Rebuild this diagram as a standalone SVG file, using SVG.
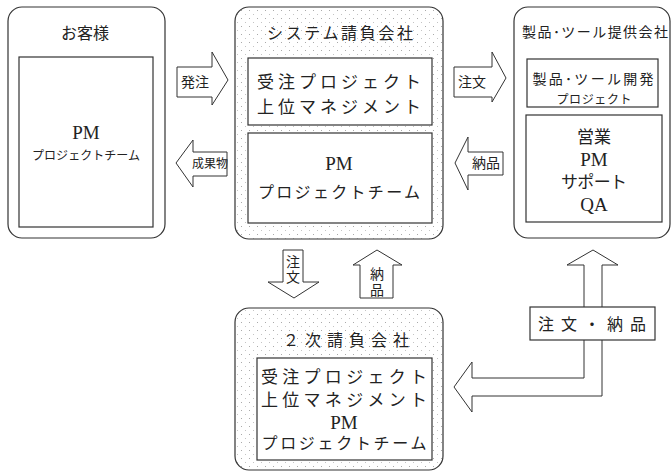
<svg xmlns="http://www.w3.org/2000/svg" width="671" height="472" viewBox="0 0 671 472">
<defs>
<pattern id="dots" width="8" height="8" patternUnits="userSpaceOnUse">
<rect width="8" height="8" fill="#fff"/>
<rect x="1" y="2" width="1" height="1" fill="#aaa"/>
<rect x="5" y="6" width="1" height="1" fill="#c4c4c4"/>
</pattern>
<style>
.box{fill:#fff;stroke:#333;stroke-width:1.2}
.dot{fill:url(#dots);stroke:#333;stroke-width:1.2}
.in{fill:#fff;stroke:#333;stroke-width:1.2}
.arr{fill:#fff;stroke:#333;stroke-width:1}
text{font-family:"Liberation Serif","Noto Sans CJK JP",serif;fill:#222;text-anchor:middle}
.t{font-size:16px}
.m{font-size:17px}
.p{font-size:19px}
.s{font-size:12px}
.a{font-size:14px}
</style>
</defs>

<g id="customer">
<rect class="box" x="8" y="7" width="157" height="231" rx="14"/>
<rect class="in" x="19" y="57" width="134" height="170"/>
<text class="t" x="85" y="39">お客様</text>
<text class="p" x="86" y="139">PM</text>
<text class="s" x="86" y="160" textLength="108">プロジェクトチーム</text>
</g>

<g id="system">
<rect class="dot" x="235" y="7" width="208" height="232" rx="14"/>
<rect class="in" x="248" y="58" width="184" height="67"/>
<rect class="in" x="248" y="133" width="184" height="90"/>
<text class="t" x="340" y="39" textLength="146">システム請負会社</text>
<text class="m" x="339" y="88" textLength="164">受注プロジェクト</text>
<text class="m" x="339" y="113" textLength="164">上位マネジメント</text>
<text class="p" x="339" y="170">PM</text>
<text class="t" x="339" y="198" textLength="162">プロジェクトチーム</text>
</g>

<g id="vendor">
<rect class="box" x="514" y="7" width="156" height="231" rx="14"/>
<rect class="in" x="527" y="59" width="131" height="48"/>
<rect class="in" x="526" y="115" width="136" height="107"/>
<text class="a" x="595" y="37" textLength="146">製品･ツール提供会社</text>
<text class="a" x="593" y="84" textLength="121">製品･ツール開発</text>
<text class="s" x="594" y="104" textLength="75">プロジェクト</text>
<text class="m" x="594" y="143">営業</text>
<text class="p" x="594" y="166">PM</text>
<text class="m" x="594" y="188" textLength="66">サポート</text>
<text class="p" x="594" y="211">QA</text>
</g>

<g id="sub">
<rect class="dot" x="235" y="308" width="208" height="162" rx="14"/>
<rect class="in" x="257" y="358" width="175" height="102"/>
<text class="t" x="346" y="346" textLength="126">２次請負会社</text>
<text class="m" x="344" y="383" textLength="166">受注プロジェクト</text>
<text class="m" x="344" y="406" textLength="166">上位マネジメント</text>
<text class="p" x="344" y="429">PM</text>
<text class="t" x="344" y="449" textLength="165">プロジェクトチーム</text>
</g>

<g id="connectors">
<polygon class="arr" points="177,67 212,67 212,52 228,80 212,105 212,97 177,97"/>
<text class="a" x="195" y="87">発注</text>
<polygon class="arr" points="227,152 193,152 193,140 176,163 193,187 193,176 227,176"/>
<text class="s" x="210" y="168">成果物</text>
<polygon class="arr" points="454,67 492,67 492,52 506,78 492,102 492,97 454,97"/>
<text class="a" x="472" y="87">注文</text>
<polygon class="arr" points="503,152 468,152 468,137 455,163 468,190 468,175 503,175"/>
<text class="a" x="486" y="168">納品</text>
<polygon class="arr" points="283,250 303,250 303,282 319,282 294,298 268,282 283,282"/>
<text class="a" x="293" y="267">注</text>
<text class="a" x="293" y="282">文</text>
<polygon class="arr" points="377,250 402,265 393,265 393,298 360,298 360,265 353,265"/>
<text class="a" x="377" y="279">納</text>
<text class="a" x="377" y="295">品</text>
<polygon class="arr" points="593,250 618,265 602,265 602,396 472,396 472,412 454,387 472,362 472,378 584,378 584,265 567,265"/>
<rect class="in" x="530" y="307" width="125" height="33"/>
<text class="t" x="592" y="330" textLength="108">注文・納品</text>
</g>
</svg>
